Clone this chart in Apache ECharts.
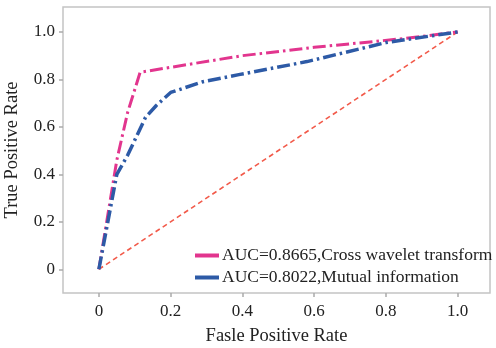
<!DOCTYPE html>
<html>
<head>
<meta charset="utf-8">
<script src="https://cdn.jsdelivr.net/npm/echarts@6/dist/echarts.min.js"></script>
<style>html,body{margin:0;padding:0;background:#fff;}#c{width:496px;height:348px;}</style>
</head>
<body>
<div id="c"></div>
<script>
const tickValues = [0, 0.2, 0.4, 0.6, 0.8, 1.0];
const seriesNames = ['AUC=0.8665,Cross wavelet transform', 'AUC=0.8022,Mutual information'];
const crossWaveletPoints = [[0,0],[0.05,0.46],[0.08,0.66],[0.115,0.83],[0.4,0.9],[0.6,0.935],[0.85,0.972],[1,1]];
const mutualInfoPoints = [[0,0],[0.05,0.40],[0.08,0.48],[0.13,0.64],[0.16,0.69],[0.2,0.745],[0.29,0.79],[0.39,0.82],[0.58,0.875],[0.8,0.955],[1,1]];
const chancePoints = [[0,0],[1,1]];

const fmt = v => (Math.abs(v) < 1e-9 ? '0' : v.toFixed(1));
const font = '"Liberation Serif", "DejaVu Serif", serif';

const chart = echarts.init(document.getElementById('c'), null, {renderer: 'canvas'});
chart.setOption({
  animation: false,
  backgroundColor: '#fff',
  grid: {left: 63, right: 6, top: 7, bottom: 55, show: true, containLabel: false, outerBoundsMode: 'none',
         borderColor: '#c4c4c4', borderWidth: 1.5, backgroundColor: '#fff'},
  xAxis: {
    type: 'value', min: -0.1, max: 1.09,
    name: 'Fasle Positive Rate', nameLocation: 'middle', nameGap: 34,
    nameTextStyle: {fontFamily: font, fontSize: 18.5, color: '#222'},
    axisLine: {show: false, onZero: false},
    axisTick: {show: true, inside: false, length: 4, customValues: tickValues, lineStyle: {color: '#aaa', width: 1.5}},
    axisLabel: {customValues: tickValues, formatter: fmt, fontFamily: font, fontSize: 17, color: '#222', margin: 10},
    splitLine: {show: false}
  },
  yAxis: {
    type: 'value', min: -0.1, max: 1.105,
    name: 'True Positive Rate', nameLocation: 'middle', nameGap: 41, nameRotate: 90,
    nameTextStyle: {fontFamily: font, fontSize: 18.5, color: '#222'},
    axisLine: {show: false, onZero: false},
    axisTick: {show: true, inside: false, length: 4, customValues: tickValues, lineStyle: {color: '#aaa', width: 1.5}},
    axisLabel: {customValues: tickValues, formatter: fmt, fontFamily: font, fontSize: 17, color: '#222', margin: 8},
    splitLine: {show: false}
  },
  legend: {
    data: seriesNames.map(n => ({name: n})),
    orient: 'vertical', left: 195, top: 246,
    icon: 'rect', itemWidth: 24, itemHeight: 4, itemGap: 3,
    textStyle: {fontFamily: font, fontSize: 17.5, color: '#222', padding: [0, 0, 0, -2], lineHeight: 19},
    padding: 0
  },
  series: [
    {type: 'line', name: 'chance', data: chancePoints, symbol: 'none', silent: true,
     lineStyle: {color: '#f25a4a', width: 1.6, type: [5, 3.5]}, z: 1},
    {type: 'line', name: seriesNames[0], data: crossWaveletPoints, symbol: 'none',
     itemStyle: {color: '#e2358e'},
     lineStyle: {color: '#e2358e', width: 3, type: [13, 4, 2.5, 4]}, z: 2},
    {type: 'line', name: seriesNames[1], data: mutualInfoPoints, symbol: 'none',
     itemStyle: {color: '#2d5aa6'},
     lineStyle: {color: '#2d5aa6', width: 3.5, type: [13, 4, 2.5, 4]}, z: 3}
  ]
});
</script>
</body>
</html>
